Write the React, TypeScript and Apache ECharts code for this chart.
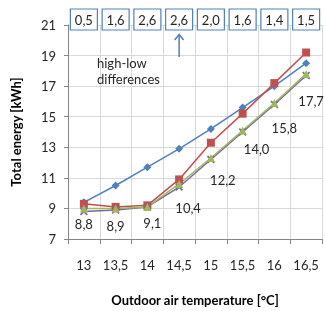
import React, { useEffect, useRef } from "react";
import * as echarts from "echarts";

const categories = ["13", "13,5", "14", "14,5", "15", "15,5", "16", "16,5"];
const seriesBlue = [9.4, 10.5, 11.7, 12.9, 14.2, 15.6, 17.0, 18.5];
const seriesRed = [9.3, 9.1, 9.2, 10.9, 13.3, 15.2, 17.2, 19.2];
const seriesGreen = [9.0, 9.0, 9.1, 10.6, 12.3, 14.1, 15.9, 17.8];
const seriesPurple = [8.8, 8.9, 9.1, 10.4, 12.2, 14.0, 15.8, 17.7];
const highLowDiffs = ["0,5", "1,6", "2,6", "2,6", "2,0", "1,6", "1,4", "1,5"];
const yTicks = { min: 7, max: 21, interval: 2 };

// label placement (styling only)
const LABEL_OFFSETS: [number, number][] = [
  [0, 13], [0, 16], [5, 16], [9, 21], [12, 20], [14, 17], [10, 24], [5, 26],
];

const FONT = "Lato";
const xShape =
  "path://M0,1.5L1.5,0L5,3.5L8.5,0L10,1.5L6.5,5L10,8.5L8.5,10L5,6.5L1.5,10L0,8.5L3.5,5Z";

const fmt = (v: number) => v.toFixed(1).replace(".", ",");

export default function App() {
  const ref = useRef<HTMLDivElement>(null);
  useEffect(() => {
    if (!ref.current) return;
    const chart = echarts.init(ref.current, undefined, { renderer: "svg" });
    const mk = (
      name: string,
      data: number[],
      color: string,
      symbol: string,
      size: number
    ) => ({
      name,
      type: "line",
      data,
      symbol,
      symbolSize: size,
      lineStyle: { color, width: 1.5 },
      itemStyle: { color },
      z: 2,
    });
    chart.setOption({
      animation: false,
      grid: { left: 68, right: 3, top: 25, bottom: 65 },
      xAxis: {
        type: "category",
        data: categories,
        boundaryGap: true,
        name: "Outdoor air temperature [°C]",
        nameLocation: "middle",
        nameGap: 54,
        nameTextStyle: { fontFamily: FONT, fontWeight: "bold", fontSize: 13, color: "#000" },
        axisLine: { lineStyle: { color: "#868686" } },
        axisTick: { show: true, length: 5, lineStyle: { color: "#868686" } },
        axisLabel: { interval: 0, fontFamily: FONT, fontSize: 13, color: "#262626", margin: 19 },
        splitLine: { show: true, lineStyle: { color: "#D9D9D9" } },
      },
      yAxis: {
        type: "value",
        min: yTicks.min,
        max: yTicks.max,
        interval: yTicks.interval,
        name: "Total energy [kWh]",
        nameLocation: "middle",
        nameGap: 46,
        nameTextStyle: { fontFamily: FONT, fontWeight: "bold", fontSize: 13, color: "#000" },
        axisLine: { show: true, lineStyle: { color: "#868686" } },
        axisTick: { show: true, length: 4, lineStyle: { color: "#868686" } },
        axisLabel: { fontFamily: FONT, fontSize: 13, color: "#262626", margin: 12 },
        splitLine: { show: true, lineStyle: { color: "#D9D9D9" } },
      },
      series: [
        mk("A", seriesBlue, "#4F81BD", "diamond", 8),
        mk("B", seriesRed, "#C0504D", "rect", 8),
        {
          ...mk("D", seriesPurple, "#8064A2", xShape, 8),
          data: seriesPurple.map((v, i) => ({
            value: v,
            label: {
              show: true,
              formatter: () => fmt(v),
              position: "inside",
              offset: LABEL_OFFSETS[i],
              fontFamily: FONT,
              fontSize: 13,
              color: "#262626",
            },
          })),
        },
        mk("C", seriesGreen, "#9BBB59", "triangle", 8),
      ],
    });

    const graphics: any[] = [];
    categories.forEach((c, i) => {
      const px = chart.convertToPixel({ xAxisIndex: 0 }, c) as number;
      graphics.push({
        type: "rect",
        shape: { x: px - 13.5, y: 9, width: 27, height: 21 },
        style: { fill: "#fff", stroke: "#4F81BD", lineWidth: 1.2 },
        z: 10,
      });
      graphics.push({
        type: "text",
        x: px,
        y: 19.5,
        style: {
          text: highLowDiffs[i],
          fontFamily: FONT,
          fontSize: 13,
          fill: "#262626",
          align: "center",
          verticalAlign: "middle",
        },
        z: 11,
      });
    });
    const ax = chart.convertToPixel({ xAxisIndex: 0 }, categories[3]) as number;
    graphics.push({
      type: "line",
      shape: { x1: ax, y1: 57, x2: ax, y2: 35 },
      style: { stroke: "#4F81BD", lineWidth: 1.5 },
      z: 10,
    });
    graphics.push({
      type: "polyline",
      shape: { points: [[ax - 4.5, 40], [ax, 34.5], [ax + 4.5, 40]] },
      style: { stroke: "#4F81BD", lineWidth: 1.5, fill: "none" },
      z: 10,
    });
    graphics.push({
      type: "text",
      x: 97,
      y: 55,
      style: {
        text: "high-low\ndifferences",
        fontFamily: FONT,
        fontSize: 13,
        lineHeight: 16,
        fill: "#262626",
        align: "left",
        verticalAlign: "top",
      },
      z: 10,
    });
    chart.setOption({ graphic: graphics });
    return () => chart.dispose();
  }, []);
  return (
    <div
      ref={ref}
      style={{ position: "fixed", left: 0, top: 0, width: 325, height: 311 }}
    />
  );
}
